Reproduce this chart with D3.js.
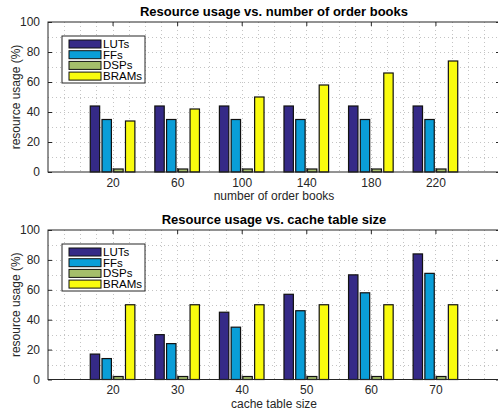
<!DOCTYPE html>
<html>
<head>
<meta charset="utf-8">
<script src="https://cdn.jsdelivr.net/npm/d3@7"></script>
<style>
  html, body { margin: 0; padding: 0; background: #fff; }
  svg { display: block; font-family: "Liberation Sans", Arial, Helvetica, sans-serif; }
</style>
</head>
<body>
<svg id="chart" width="498" height="411"></svg>
<script>
// Resource names and colours (parula samples)
const resources = ["LUTs", "FFs", "DSPs", "BRAMs"];
const resourceColors = ["#352a87", "#0a9ed8", "#a5be6b", "#f9fb0e"];

// Panel 1: number of order books
const orderBooks = [20, 60, 100, 140, 180, 220];
const obLUTs  = [44, 44, 44, 44, 44, 44];
const obFFs   = [35, 35, 35, 35, 35, 35];
const obDSPs  = [2, 2, 2, 2, 2, 2];
const obBRAMs = [34, 42, 50, 58, 66, 74];

// Panel 2: cache table size
const cacheSizes = [20, 30, 40, 50, 60, 70];
const ctLUTs  = [17, 30, 45, 57, 70, 84];
const ctFFs   = [14, 24, 35, 46, 58, 71];
const ctDSPs  = [2, 2, 2, 2, 2, 2];
const ctBRAMs = [50, 50, 50, 50, 50, 50];

const yTicks = [0, 20, 40, 60, 80, 100];

const svg = d3.select("#chart");

function panel(opts) {
  const { top, bottom, left, right, cats, series, title, xlabel } = opts;
  const step = cats[1] - cats[0];
  const x = d3.scaleLinear().domain([cats[0] - step, cats[cats.length - 1] + step]).range([left, right]);
  const y = d3.scaleLinear().domain([0, 100]).range([bottom, top]);
  const g = svg.append("g");

  // dotted grid: every 10 in y, every quarter category step in x
  const gridCol = "#c4c4c4";
  const yMinor = d3.range(10, 100, 10);
  g.append("g").selectAll("line").data(yMinor).join("line")
    .attr("x1", left).attr("x2", right)
    .attr("y1", d => Math.round(y(d)) + 0.5).attr("y2", d => Math.round(y(d)) + 0.5)
    .attr("stroke", gridCol).attr("stroke-width", 1).attr("stroke-dasharray", "1,3");
  const [x0, x1] = x.domain();
  const xMinor = d3.range(x0 + step / 4, x1, step / 4);
  g.append("g").selectAll("line").data(xMinor).join("line")
    .attr("x1", d => Math.round(x(d)) + 0.5).attr("x2", d => Math.round(x(d)) + 0.5)
    .attr("y1", top).attr("y2", bottom)
    .attr("stroke", gridCol).attr("stroke-width", 1).attr("stroke-dasharray", "1,3");

  // grouped bars
  const nS = series.length;
  const groupW = Math.min(0.8, nS / (nS + 1.5)) * step;
  const slot = groupW / nS;
  const barW = slot * 0.8;
  series.forEach((vals, si) => {
    const off = -groupW / 2 + slot * (si + 0.5);
    g.append("g").selectAll("rect").data(vals).join("rect")
      .attr("x", (d, i) => x(cats[i] + off - barW / 2))
      .attr("width", x(barW) - x(0))
      .attr("y", d => y(d))
      .attr("height", d => y(0) - y(d))
      .attr("fill", resourceColors[si])
      .attr("stroke", "#111").attr("stroke-width", 1.2);
  });

  // axes box and inward ticks
  const tickLen = 4;
  const axisCol = "#262626";
  g.append("rect").attr("x", left).attr("y", top).attr("width", right - left).attr("height", bottom - top)
    .attr("fill", "none").attr("stroke", axisCol).attr("stroke-width", 1);

  const yAxisL = d3.axisLeft(y).tickValues(yTicks).tickSize(-tickLen).tickPadding(8);
  const yAxisR = d3.axisRight(y).tickValues(yTicks).tickSize(-tickLen).tickFormat("");
  const xAxisB = d3.axisBottom(x).tickValues(cats).tickSize(-tickLen).tickPadding(6);
  const xAxisT = d3.axisTop(x).tickValues(cats).tickSize(-tickLen).tickFormat("");

  [[yAxisL, `translate(${left},0)`], [yAxisR, `translate(${right},0)`],
   [xAxisB, `translate(0,${bottom})`], [xAxisT, `translate(0,${top})`]].forEach(([ax, tr]) => {
    const a = g.append("g").attr("transform", tr).call(ax);
    a.select(".domain").remove();
    a.selectAll(".tick line").attr("stroke", axisCol);
    a.selectAll(".tick text").attr("fill", axisCol).style("font-size", "12px")
      .style("font-family", "'Liberation Sans', Arial, sans-serif");
  });

  // title and labels
  g.append("text").attr("x", (left + right) / 2).attr("y", top - 6)
    .attr("text-anchor", "middle").attr("font-weight", "bold").attr("font-size", "13px")
    .attr("fill", "#000").text(title);
  g.append("text").attr("x", (left + right) / 2).attr("y", bottom + 28)
    .attr("text-anchor", "middle").attr("font-size", "12px").attr("fill", axisCol).text(xlabel);
  g.append("text").attr("transform", `translate(${left - 28},${(top + bottom) / 2}) rotate(-90)`)
    .attr("text-anchor", "middle").attr("font-size", "12px").attr("fill", axisCol).text("resource usage (%)");

  // legend
  const lg = g.append("g").attr("transform", `translate(${left + 14},${top + 14})`);
  lg.append("rect").attr("x", 0).attr("y", 0).attr("width", 83).attr("height", 47)
    .attr("fill", "#fff").attr("stroke", axisCol).attr("stroke-width", 1);
  resources.forEach((name, i) => {
    const cy = 8 + i * 10.7;
    lg.append("rect").attr("x", 7).attr("y", cy - 4).attr("width", 32).attr("height", 8)
      .attr("fill", resourceColors[i]).attr("stroke", "#111").attr("stroke-width", 1);
    lg.append("text").attr("x", 41).attr("y", cy + 4).attr("font-size", "11.5px")
      .attr("fill", "#000").text(name);
  });
}

panel({
  top: 22, bottom: 172, left: 48, right: 500,
  cats: orderBooks, series: [obLUTs, obFFs, obDSPs, obBRAMs],
  title: "Resource usage vs. number of order books", xlabel: "number of order books"
});
panel({
  top: 230, bottom: 379.5, left: 48, right: 500,
  cats: cacheSizes, series: [ctLUTs, ctFFs, ctDSPs, ctBRAMs],
  title: "Resource usage vs. cache table size", xlabel: "cache table size"
});
</script>
</body>
</html>
